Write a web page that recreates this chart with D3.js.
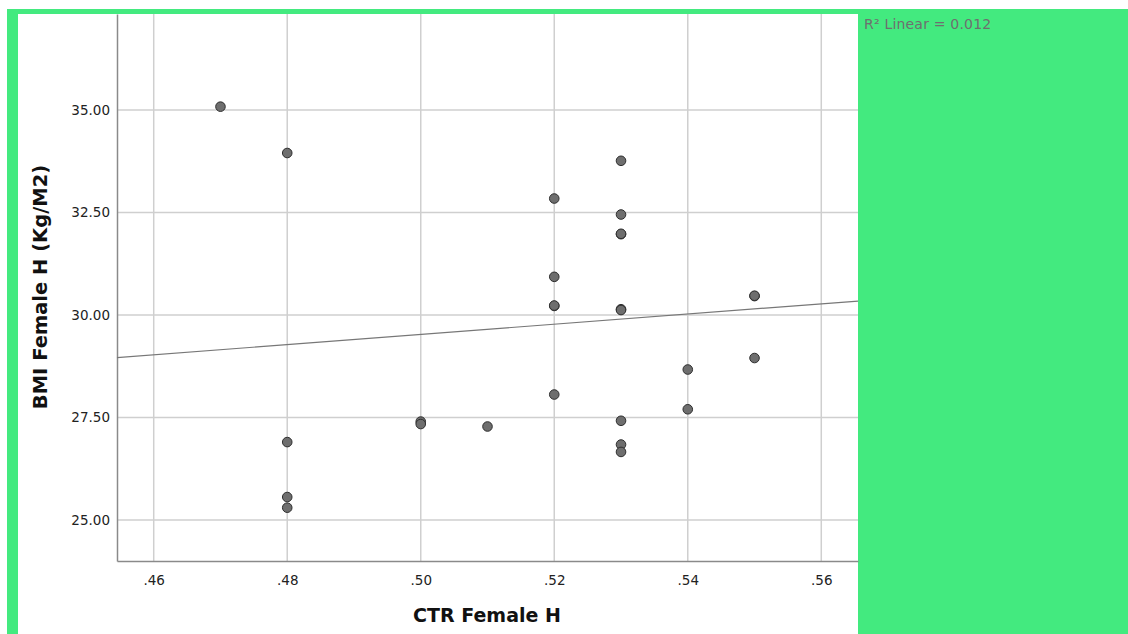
<!DOCTYPE html>
<html>
<head>
<meta charset="utf-8">
<script src="https://cdn.jsdelivr.net/npm/d3@7"></script>
<style>
  html, body { margin: 0; padding: 0; background: #ffffff; }
  svg { display: block; }
</style>
</head>
<body>
<svg id="chart" width="1128" height="634"></svg>
<script>
// ---- data ----
const ctrValues = [0.47, 0.48, 0.48, 0.48, 0.48, 0.50, 0.50, 0.51,
                   0.52, 0.52, 0.52, 0.52, 0.52,
                   0.53, 0.53, 0.53, 0.53, 0.53, 0.53, 0.53, 0.53, 0.53,
                   0.54, 0.54, 0.55, 0.55, 0.55];
const bmiValues = [35.08, 33.95, 26.90, 25.56, 25.30, 27.40, 27.34, 27.28,
                   32.84, 30.93, 30.22, 30.23, 28.06,
                   33.76, 32.45, 31.97, 31.98, 30.14, 30.12, 27.42, 26.84, 26.66,
                   28.67, 27.70, 30.46, 30.47, 28.95];
const xTicks = [0.46, 0.48, 0.50, 0.52, 0.54, 0.56];
const yTicks = [25, 27.5, 30, 32.5, 35];
const xDomain = [0.4545, 0.5655];
const yDomain = [24, 37.34];
const fitX = [0.4545, 0.5655];
const fitY = [28.96, 30.34];
const xTitle = "CTR Female H";
const yTitle = "BMI Female H (Kg/M2)";
const r2Label = "R\u00B2 Linear = 0.012";

// ---- drawing ----
const svg = d3.select("#chart");
const green = "#43EA7F";
const font = "'DejaVu Sans', 'Liberation Sans', sans-serif";

// background frame
svg.append("rect").attr("x", 7).attr("y", 9).attr("width", 1121).attr("height", 625).attr("fill", green);
svg.append("rect").attr("x", 18).attr("y", 14).attr("width", 840).attr("height", 620).attr("fill", "#ffffff");

const x = d3.scaleLinear().domain(xDomain).range([117, 858]);
const y = d3.scaleLinear().domain(yDomain).range([561, 14]);

// grid lines
const grid = svg.append("g");
grid.selectAll("line.v").data(xTicks).join("line")
  .attr("x1", d => x(d)).attr("x2", d => x(d))
  .attr("y1", y.range()[1]).attr("y2", y.range()[0])
  .attr("stroke", "#cfcfcf").attr("stroke-width", 1.5);
grid.selectAll("line.h").data(yTicks).join("line")
  .attr("x1", x.range()[0]).attr("x2", x.range()[1])
  .attr("y1", d => y(d)).attr("y2", d => y(d))
  .attr("stroke", "#cfcfcf").attr("stroke-width", 1.5);

// axes
const xAxis = d3.axisBottom(x).tickValues(xTicks).tickSize(0).tickPadding(14)
  .tickFormat(d => d3.format(".2f")(d).replace(/^0/, ""));
const gx = svg.append("g").attr("transform", `translate(0,${y.range()[0]})`).call(xAxis);
gx.select(".domain").attr("stroke", "#8a8a8a").attr("stroke-width", 1.5);
gx.selectAll("text").attr("font-family", font).attr("font-size", 13.5).attr("fill", "#222");

const yAxis = d3.axisLeft(y).tickValues(yTicks).tickSize(0).tickPadding(7)
  .tickFormat(d3.format(".2f"));
const gy = svg.append("g").attr("transform", `translate(${x.range()[0]},0)`).call(yAxis);
gy.select(".domain").attr("stroke", "#8a8a8a").attr("stroke-width", 1.5);
gy.selectAll("text").attr("font-family", font).attr("font-size", 13.5).attr("fill", "#222");

// fit line
svg.append("line")
  .attr("x1", x(fitX[0])).attr("y1", y(fitY[0]))
  .attr("x2", x(fitX[1])).attr("y2", y(fitY[1]))
  .attr("stroke", "#777").attr("stroke-width", 1.2);

// points
const pts = ctrValues.map((c, i) => ({ c, b: bmiValues[i] }));
svg.append("g").selectAll("circle").data(pts).join("circle")
  .attr("cx", d => x(d.c)).attr("cy", d => y(d.b)).attr("r", 4.8)
  .attr("fill", "#6e6e6e").attr("stroke", "#2e2e2e").attr("stroke-width", 1);

// titles
svg.append("text").attr("x", 487).attr("y", 622).attr("text-anchor", "middle")
  .attr("font-family", font).attr("font-size", 19).attr("font-weight", "bold").attr("fill", "#111")
  .text(xTitle);
svg.append("text").attr("transform", "translate(47,287) rotate(-90)").attr("text-anchor", "middle")
  .attr("font-family", font).attr("font-size", 19.5).attr("font-weight", "bold").attr("fill", "#111")
  .text(yTitle);

// R2 label
svg.append("text").attr("x", 864).attr("y", 29)
  .attr("font-family", font).attr("font-size", 14).attr("fill", "#6f6f6f")
  .attr("letter-spacing", 0.2)
  .text(r2Label);
</script>
</body>
</html>
